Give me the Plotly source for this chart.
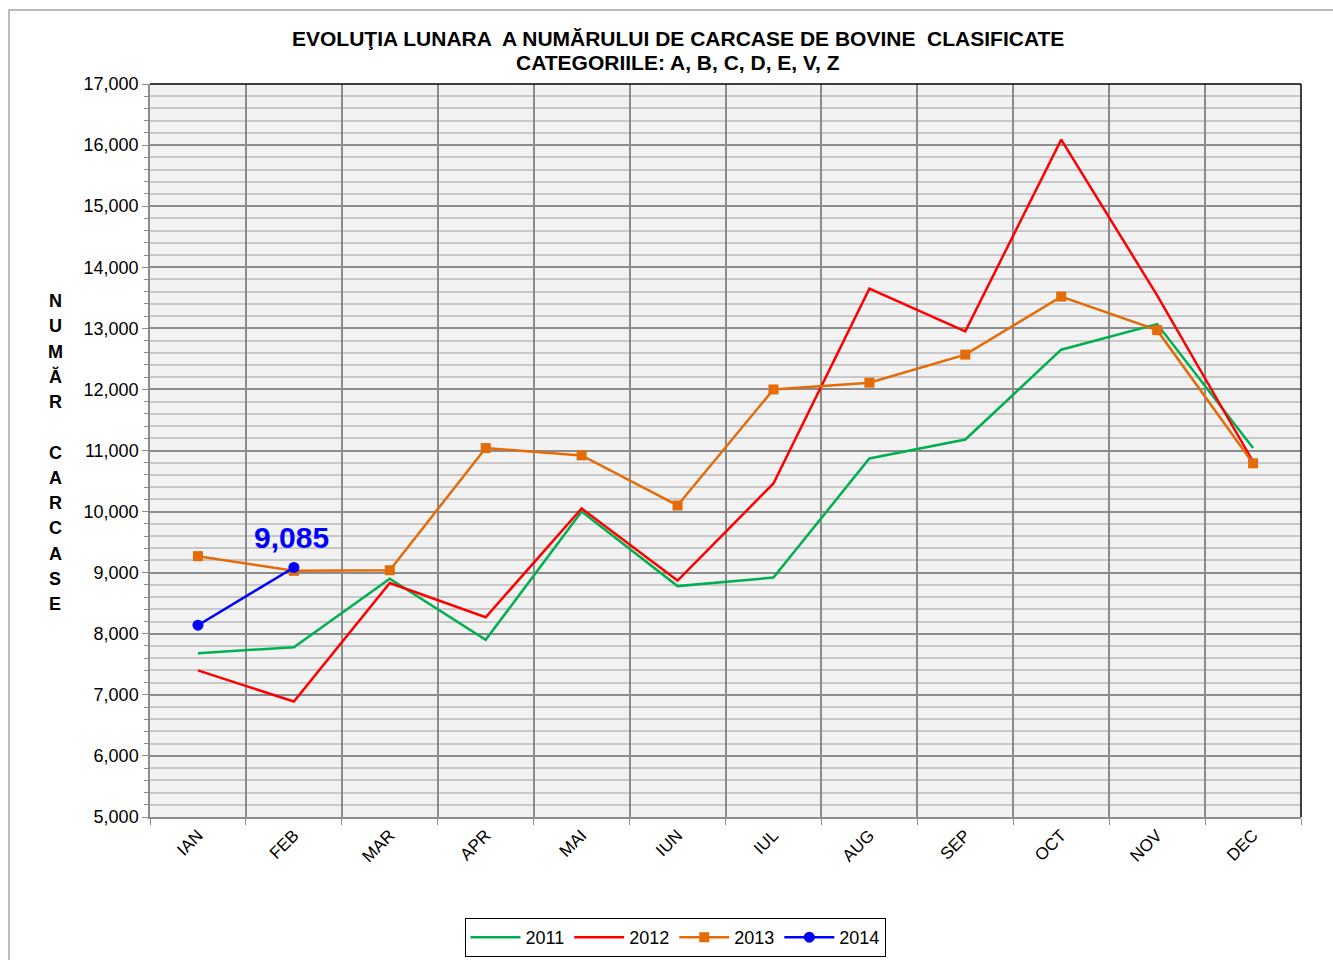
import plotly.graph_objects as go

months = ["IAN", "FEB", "MAR", "APR", "MAI", "IUN", "IUL", "AUG", "SEP", "OCT", "NOV", "DEC"]
y2011 = [7680, 7780, 8900, 7900, 10000, 8780, 8920, 10870, 11180, 12650, 13070, 11040]
y2012 = [7400, 6890, 8830, 8270, 10050, 8870, 10460, 13650, 12950, 16090, 13540, 10820]
y2013 = [9270, 9030, 9040, 11040, 10920, 10100, 12000, 12110, 12570, 13520, 12970, 10790]
y2014 = [8140, 9085]

ylabel_letters = ["N", "U", "M", "Ă", "R", "", "C", "A", "R", "C", "A", "S", "E"]

W, H = 1333, 960
L, R, T, B = 150, 32, 84, 143
PW, PH = W - L - R, H - T - B

def px_x(x):
    return (x - L) / PW

def px_y(y):
    return (H - B - y) / PH

font = "Liberation Sans, Arial, sans-serif"

fig = go.Figure()
fig.add_trace(go.Scatter(x=months, y=y2011, name="2011", mode="lines",
                         line=dict(color="#00b050", width=2.5)))
fig.add_trace(go.Scatter(x=months, y=y2012, name="2012", mode="lines",
                         line=dict(color="#ff0000", width=2.5)))
fig.add_trace(go.Scatter(x=months, y=y2013, name="2013", mode="lines+markers",
                         line=dict(color="#e36c09", width=2.5),
                         marker=dict(symbol="square", size=10, color="#e36c09")))
fig.add_trace(go.Scatter(x=months[:len(y2014)], y=y2014, name="2014", mode="lines+markers",
                         line=dict(color="#0000ff", width=2.5),
                         marker=dict(symbol="circle", size=11, color="#0000ff")))

annotations = []
# data label
annotations.append(dict(x=months[1], y=y2014[1], xref="x", yref="y",
                        text=f"{y2014[1]:,}", showarrow=False, xshift=-2, yshift=30,
                        font=dict(family=font, size=30, color="#0000ff", weight="bold")))
# title
annotations.append(dict(x=px_x(678), y=px_y(38), xref="paper", yref="paper",
                        text="EVOLUŢIA LUNARA  A NUMĂRULUI DE CARCASE DE BOVINE  CLASIFICATE",
                        showarrow=False, xanchor="center", yanchor="middle",
                        font=dict(family=font, size=21, color="black", weight="bold")))
annotations.append(dict(x=px_x(678), y=px_y(62), xref="paper", yref="paper",
                        text="CATEGORIILE: A, B, C, D, E, V, Z",
                        showarrow=False, xanchor="center", yanchor="middle",
                        font=dict(family=font, size=21, color="black", weight="bold")))
# vertical axis label letters
for i, ch in enumerate(ylabel_letters):
    if ch:
        annotations.append(dict(x=px_x(55), y=px_y(301 + i * 25.25), xref="paper", yref="paper",
                                text=ch, showarrow=False, xanchor="center", yanchor="middle",
                                font=dict(family=font, size=18, color="black", weight="bold")))

shapes = [
    # outer chart border
    dict(type="rect", xref="paper", yref="paper", x0=px_x(9), x1=px_x(1345), y0=px_y(975), y1=px_y(10),
         line=dict(color="#a6a6a6", width=1.5), fillcolor="rgba(0,0,0,0)", layer="below"),
    # top and right plot border
    dict(type="line", xref="paper", yref="paper", x0=0, x1=1, y0=1, y1=1,
         line=dict(color="black", width=1.5)),
    dict(type="line", xref="paper", yref="paper", x0=1, x1=1, y0=0, y1=1,
         line=dict(color="black", width=1.5)),
]

fig.update_layout(
    width=W, height=H,
    margin=dict(l=L, r=R, t=T, b=B),
    paper_bgcolor="white",
    plot_bgcolor="#f2f2f2",
    font=dict(family=font, color="black"),
    showlegend=True,
    legend=dict(orientation="h", xref="container", yref="container",
                x=675 / W, xanchor="center", y=3 / H, yanchor="bottom",
                bordercolor="black", borderwidth=1, bgcolor="white",
                font=dict(family=font, size=18, color="black"), itemwidth=50,
                tracegroupgap=0),
    annotations=annotations,
    shapes=shapes,
)

fig.update_xaxes(type="category", tickson="boundaries", showgrid=True, gridcolor="#8c8c8c", gridwidth=1.5,
                 ticks="outside", ticklen=6, tickcolor="#8c8c8c", tickangle=-45,
                 showline=True, linecolor="#8c8c8c", linewidth=1.5,
                 tickfont=dict(family=font, size=17, color="black"), range=[-0.5, 11.5])
fig.update_yaxes(range=[5000, 17000], dtick=1000, tickformat=",d", showgrid=True, gridcolor="#8c8c8c",
                 gridwidth=1.5, ticks="outside", ticklen=6, tickcolor="#8c8c8c",
                 showline=True, linecolor="#8c8c8c", linewidth=1.5, zeroline=False,
                 tickfont=dict(family=font, size=18, color="black"),
                 minor=dict(dtick=200, showgrid=True, gridcolor="#c8c8c8", gridwidth=1.5,
                            ticks="outside", ticklen=4, tickcolor="#8c8c8c"))

fig.write_html("out.html", config={"displayModeBar": False},
               post_script="document.body.style.margin='0';document.body.style.overflow='hidden';")
